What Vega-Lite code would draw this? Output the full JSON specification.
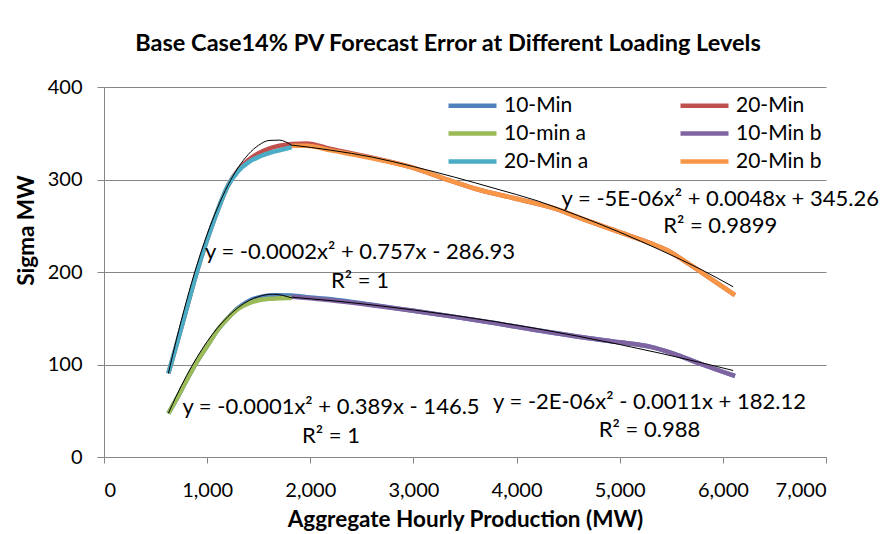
{
  "$schema": "https://vega.github.io/schema/vega-lite/v6.json",
  "autosize": {"type": "none"},
  "width": 722,
  "height": 370,
  "padding": {"left": 104, "top": 87, "right": 58, "bottom": 77},
  "background": "white",
  "title": {
    "text": "Base Case14% PV Forecast Error at Different Loading Levels",
    "font": "Lato",
    "fontSize": 23.5,
    "fontWeight": "bold",
    "color": "black",
    "anchor": "middle",
    "dx": -17,
    "offset": 22
  },
  "config": {
    "view": {"stroke": null},
    "font": "Lato"
  },
  "datasets": {
    "series": [
      {"s": "10-Min", "x": 624, "y": 47.2}, {"s": "10-Min", "x": 700, "y": 62}, {"s": "10-Min", "x": 800, "y": 83}, {"s": "10-Min", "x": 900, "y": 103}, {"s": "10-Min", "x": 1000, "y": 120}, {"s": "10-Min", "x": 1100, "y": 137}, {"s": "10-Min", "x": 1200, "y": 150}, {"s": "10-Min", "x": 1300, "y": 161}, {"s": "10-Min", "x": 1400, "y": 168.5}, {"s": "10-Min", "x": 1500, "y": 172.5}, {"s": "10-Min", "x": 1600, "y": 174.5}, {"s": "10-Min", "x": 1700, "y": 175}, {"s": "10-Min", "x": 1820, "y": 174.5}, {"s": "10-Min", "x": 2000, "y": 172.5}, {"s": "10-Min", "x": 2200, "y": 170.5}, {"s": "10-Min", "x": 2600, "y": 164.5}, {"s": "10-Min", "x": 3000, "y": 158}, {"s": "10-Min", "x": 3400, "y": 151.5}, {"s": "10-Min", "x": 3800, "y": 144.5}, {"s": "10-Min", "x": 4200, "y": 137}, {"s": "10-Min", "x": 4600, "y": 130}, {"s": "10-Min", "x": 5000, "y": 124}, {"s": "10-Min", "x": 5300, "y": 119}, {"s": "10-Min", "x": 5500, "y": 112.5}, {"s": "10-Min", "x": 5800, "y": 100}, {"s": "10-Min", "x": 6117, "y": 87.5},
      {"s": "20-Min", "x": 624, "y": 90.5}, {"s": "20-Min", "x": 700, "y": 120}, {"s": "20-Min", "x": 800, "y": 160}, {"s": "20-Min", "x": 900, "y": 200}, {"s": "20-Min", "x": 1000, "y": 235}, {"s": "20-Min", "x": 1100, "y": 266}, {"s": "20-Min", "x": 1200, "y": 293}, {"s": "20-Min", "x": 1300, "y": 310}, {"s": "20-Min", "x": 1400, "y": 321}, {"s": "20-Min", "x": 1500, "y": 328.5}, {"s": "20-Min", "x": 1600, "y": 333.5}, {"s": "20-Min", "x": 1700, "y": 336.5}, {"s": "20-Min", "x": 1820, "y": 338.5}, {"s": "20-Min", "x": 1965, "y": 339}, {"s": "20-Min", "x": 2200, "y": 333}, {"s": "20-Min", "x": 2600, "y": 323.5}, {"s": "20-Min", "x": 3000, "y": 312.5}, {"s": "20-Min", "x": 3322, "y": 300}, {"s": "20-Min", "x": 3600, "y": 290}, {"s": "20-Min", "x": 3966, "y": 280}, {"s": "20-Min", "x": 4389, "y": 268}, {"s": "20-Min", "x": 4600, "y": 259}, {"s": "20-Min", "x": 5000, "y": 243}, {"s": "20-Min", "x": 5300, "y": 231}, {"s": "20-Min", "x": 5450, "y": 224}, {"s": "20-Min", "x": 5600, "y": 214}, {"s": "20-Min", "x": 5800, "y": 199}, {"s": "20-Min", "x": 6000, "y": 184}, {"s": "20-Min", "x": 6117, "y": 175},
      {"s": "10-min a", "x": 624, "y": 47.2}, {"s": "10-min a", "x": 700, "y": 62}, {"s": "10-min a", "x": 800, "y": 83}, {"s": "10-min a", "x": 900, "y": 103}, {"s": "10-min a", "x": 1000, "y": 120}, {"s": "10-min a", "x": 1100, "y": 137}, {"s": "10-min a", "x": 1200, "y": 150}, {"s": "10-min a", "x": 1300, "y": 160}, {"s": "10-min a", "x": 1400, "y": 166}, {"s": "10-min a", "x": 1500, "y": 169.5}, {"s": "10-min a", "x": 1600, "y": 171}, {"s": "10-min a", "x": 1700, "y": 171.5}, {"s": "10-min a", "x": 1820, "y": 172},
      {"s": "10-Min b", "x": 1820, "y": 173.3}, {"s": "10-Min b", "x": 2000, "y": 171.5}, {"s": "10-Min b", "x": 2200, "y": 169.5}, {"s": "10-Min b", "x": 2600, "y": 164}, {"s": "10-Min b", "x": 3000, "y": 158}, {"s": "10-Min b", "x": 3400, "y": 151.5}, {"s": "10-Min b", "x": 3800, "y": 144.5}, {"s": "10-Min b", "x": 4200, "y": 137}, {"s": "10-Min b", "x": 4600, "y": 130}, {"s": "10-Min b", "x": 5000, "y": 124}, {"s": "10-Min b", "x": 5300, "y": 119}, {"s": "10-Min b", "x": 5500, "y": 112.5}, {"s": "10-Min b", "x": 5800, "y": 100}, {"s": "10-Min b", "x": 6117, "y": 87.5},
      {"s": "20-Min a", "x": 624, "y": 90.5}, {"s": "20-Min a", "x": 700, "y": 120}, {"s": "20-Min a", "x": 800, "y": 160}, {"s": "20-Min a", "x": 900, "y": 200}, {"s": "20-Min a", "x": 1000, "y": 235}, {"s": "20-Min a", "x": 1100, "y": 266}, {"s": "20-Min a", "x": 1200, "y": 293}, {"s": "20-Min a", "x": 1300, "y": 309}, {"s": "20-Min a", "x": 1400, "y": 318.5}, {"s": "20-Min a", "x": 1500, "y": 324.5}, {"s": "20-Min a", "x": 1600, "y": 328.5}, {"s": "20-Min a", "x": 1700, "y": 331.5}, {"s": "20-Min a", "x": 1820, "y": 335},
      {"s": "20-Min b", "x": 1820, "y": 336.5}, {"s": "20-Min b", "x": 1965, "y": 336.5}, {"s": "20-Min b", "x": 2200, "y": 331.5}, {"s": "20-Min b", "x": 2600, "y": 323}, {"s": "20-Min b", "x": 3000, "y": 312.5}, {"s": "20-Min b", "x": 3322, "y": 300}, {"s": "20-Min b", "x": 3600, "y": 290}, {"s": "20-Min b", "x": 3966, "y": 280}, {"s": "20-Min b", "x": 4389, "y": 268}, {"s": "20-Min b", "x": 4600, "y": 259}, {"s": "20-Min b", "x": 5000, "y": 243}, {"s": "20-Min b", "x": 5300, "y": 231}, {"s": "20-Min b", "x": 5450, "y": 224}, {"s": "20-Min b", "x": 5600, "y": 214}, {"s": "20-Min b", "x": 5800, "y": 199}, {"s": "20-Min b", "x": 6000, "y": 184}, {"s": "20-Min b", "x": 6117, "y": 175}
    ],
    "trend": [
      {"t": "ua", "x": 624, "y": 90.4}, {"t": "ua", "x": 700, "y": 125.9}, {"t": "ua", "x": 800, "y": 168.8}, {"t": "ua", "x": 900, "y": 207.1}, {"t": "ua", "x": 1000, "y": 240.6}, {"t": "ua", "x": 1100, "y": 269.3}, {"t": "ua", "x": 1200, "y": 293.4}, {"t": "ua", "x": 1300, "y": 312.7}, {"t": "ua", "x": 1400, "y": 327.3}, {"t": "ua", "x": 1500, "y": 337.1}, {"t": "ua", "x": 1600, "y": 342.2}, {"t": "ua", "x": 1700, "y": 342.6}, {"t": "ua", "x": 1820, "y": 336.8},
      {"t": "ub", "x": 1820, "y": 337.2}, {"t": "ub", "x": 2200, "y": 331.7}, {"t": "ub", "x": 2600, "y": 324.2}, {"t": "ub", "x": 3000, "y": 314}, {"t": "ub", "x": 3400, "y": 302.5}, {"t": "ub", "x": 3800, "y": 290}, {"t": "ub", "x": 4200, "y": 277}, {"t": "ub", "x": 4600, "y": 260.8}, {"t": "ub", "x": 5000, "y": 243}, {"t": "ub", "x": 5400, "y": 223.4}, {"t": "ub", "x": 5800, "y": 202.1}, {"t": "ub", "x": 6100, "y": 184},
      {"t": "la", "x": 624, "y": 47.2}, {"t": "la", "x": 700, "y": 65.6}, {"t": "la", "x": 800, "y": 87.8}, {"t": "la", "x": 900, "y": 107.5}, {"t": "la", "x": 1000, "y": 124.8}, {"t": "la", "x": 1100, "y": 139.5}, {"t": "la", "x": 1200, "y": 151.7}, {"t": "la", "x": 1300, "y": 161.5}, {"t": "la", "x": 1400, "y": 168.8}, {"t": "la", "x": 1500, "y": 173.5}, {"t": "la", "x": 1641, "y": 176}, {"t": "la", "x": 1820, "y": 172},
      {"t": "lb", "x": 1820, "y": 172.8}, {"t": "lb", "x": 2200, "y": 169.1}, {"t": "lb", "x": 2600, "y": 164.4}, {"t": "lb", "x": 3000, "y": 159}, {"t": "lb", "x": 3400, "y": 153}, {"t": "lb", "x": 3800, "y": 146.2}, {"t": "lb", "x": 4200, "y": 138.7}, {"t": "lb", "x": 4600, "y": 130.5}, {"t": "lb", "x": 5000, "y": 121.6}, {"t": "lb", "x": 5400, "y": 112}, {"t": "lb", "x": 5800, "y": 101.7}, {"t": "lb", "x": 6100, "y": 93.5}
    ],
    "labels": [
      {"label": "y = -0.0002x² + 0.757x - 286.93", "x": 2482, "y": 221.6},
      {"label": "R² = 1", "x": 2482, "y": 190.3},
      {"label": "y = -0.0001x² + 0.389x - 146.5", "x": 2201, "y": 54.4},
      {"label": "R² = 1", "x": 2201, "y": 23},
      {"label": "y = -5E-06x² + 0.0048x + 345.26", "x": 5975, "y": 278.9},
      {"label": "R² = 0.9899", "x": 5975, "y": 249.7},
      {"label": "y = -2E-06x² - 0.0011x + 182.12", "x": 5289, "y": 59.8},
      {"label": "R² = 0.988", "x": 5289, "y": 29.2}
    ]
  },
  "encoding": {
    "x": {
      "field": "x", "type": "quantitative",
      "scale": {"domain": [0, 7000], "nice": false},
      "axis": {
        "values": [0, 1000, 2000, 3000, 4000, 5000, 6000, 7000],
        "format": ",.0f",
        "grid": false,
        "tickSize": 6,
        "tickColor": "#868686",
        "domainColor": "#868686",
        "labelFont": "Lato",
        "labelFontSize": 20,
        "labelColor": "black",
        "labelPadding": 17,
        "title": "Aggregate Hourly Production  (MW)",
        "titleFont": "Lato",
        "titleFontSize": 22.5,
        "titleFontWeight": "bold",
        "titleColor": "black",
        "titlePadding": 8
      }
    },
    "y": {
      "field": "y", "type": "quantitative",
      "scale": {"domain": [0, 400], "nice": false},
      "axis": {
        "values": [0, 100, 200, 300, 400],
        "grid": true,
        "gridColor": "#868686",
        "tickSize": 7,
        "tickColor": "#868686",
        "domainColor": "#868686",
        "labelFont": "Lato",
        "labelFontSize": 20,
        "labelColor": "black",
        "labelPadding": 15,
        "title": "Sigma MW",
        "titleFont": "Lato",
        "titleFontSize": 22.5,
        "titleFontWeight": "bold",
        "titleColor": "black",
        "titleX": -66,
        "titleY": 143
      }
    },
    "color": {
      "field": "s", "type": "nominal",
      "scale": {
        "domain": ["10-Min", "10-min a", "20-Min a", "20-Min", "10-Min b", "20-Min b"],
        "range": ["#4F81BD", "#9BBB59", "#4BACC6", "#C0504D", "#8064A2", "#F79646"]
      },
      "legend": {
        "title": null,
        "orient": "none",
        "legendX": 351,
        "legendY": 1,
        "columns": 2,
        "symbolType": "M-1.6,0H1.6",
        "symbolSize": 900,
        "symbolStrokeWidth": 4.5,
        "labelFont": "Lato",
        "labelFontSize": 21,
        "labelColor": "black",
        "labelOffset": 14,
        "rowPadding": -1,
        "columnPadding": 82,
        "padding": 0
      }
    }
  },
  "layer": [
    {"transform": [{"filter": "datum.s === '10-Min'"}], "data": {"name": "series"}, "mark": {"type": "line", "strokeWidth": 4.5, "interpolate": "monotone"}},
    {"transform": [{"filter": "datum.s === '20-Min'"}], "data": {"name": "series"}, "mark": {"type": "line", "strokeWidth": 4.5, "interpolate": "monotone"}},
    {"transform": [{"filter": "datum.s === '10-min a'"}], "data": {"name": "series"}, "mark": {"type": "line", "strokeWidth": 4.5, "interpolate": "monotone"}},
    {"transform": [{"filter": "datum.s === '10-Min b'"}], "data": {"name": "series"}, "mark": {"type": "line", "strokeWidth": 4.5, "interpolate": "monotone"}},
    {"transform": [{"filter": "datum.s === '20-Min a'"}], "data": {"name": "series"}, "mark": {"type": "line", "strokeWidth": 4.5, "interpolate": "monotone"}},
    {"transform": [{"filter": "datum.s === '20-Min b'"}], "data": {"name": "series"}, "mark": {"type": "line", "strokeWidth": 4.5, "interpolate": "monotone"}},
    {
      "data": {"name": "trend"},
      "mark": {"type": "line", "strokeWidth": 1, "interpolate": "monotone", "color": "black"},
      "encoding": {"color": {"value": "black"}, "detail": {"field": "t", "type": "nominal"}}
    },
    {
      "data": {"name": "labels"},
      "mark": {"type": "text", "font": "Lato", "fontSize": 22, "align": "center", "baseline": "middle", "color": "black"},
      "encoding": {"color": {"value": "black"}, "text": {"field": "label", "type": "nominal"}}
    }
  ]
}
